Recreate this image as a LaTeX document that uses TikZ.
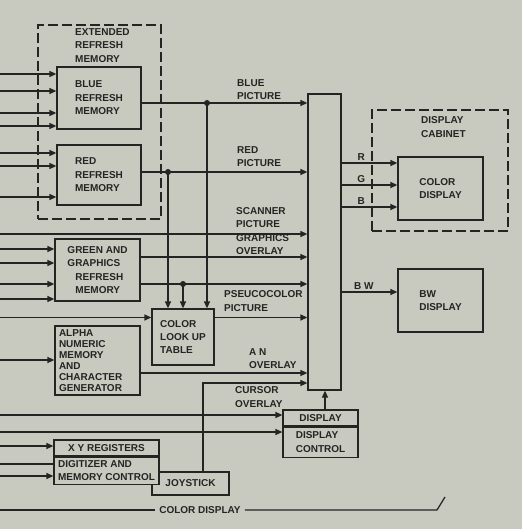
\documentclass[tikz,border=0pt]{standalone}
\usepackage{fontspec}
\setmainfont{Liberation Sans}
\usetikzlibrary{arrows.meta,positioning}
\definecolor{ScanPaper}{HTML}{C8CAC0}
\definecolor{ScanInk}{HTML}{242422}
\newcommand{\blockfont}{\fontsize{10}{13.4}\selectfont\bfseries}
\newcommand{\alphafont}{\fontsize{10}{11}\selectfont\bfseries}
\tikzset{
  wire/.style={line width=1.25pt,draw=ScanInk},
  feed/.style={wire,-{Triangle[length=7pt,width=6pt]}},
  unit/.style={draw=ScanInk,line width=1.25pt,fill=ScanPaper,inner sep=0pt,align=left,font=\blockfont},
  cabinet/.style={draw=ScanInk,line width=1.25pt,dash pattern=on 10pt off 4pt,inner sep=0pt},
  tag/.style={align=left,anchor=west,inner sep=0pt,font=\blockfont}
}

\begin{document}
\begin{tikzpicture}[x=1pt,y=-1pt,text=ScanInk]
  \useasboundingbox[fill=ScanPaper] (0,0) rectangle (522,529);

  % refresh memories
  \node[cabinet,minimum width=123pt,minimum height=194pt] (extMem) at (99.5,122) {};
  \node[tag] (extLbl) at (75,45.5) {EXTENDED\\REFRESH\\MEMORY};
  \node[unit,minimum width=84pt,minimum height=62pt] (blueMem) at (99,98) {BLUE\\REFRESH\\MEMORY};
  \node[unit,minimum width=84pt,minimum height=60pt] (redMem) at (99,175) {RED\\REFRESH\\MEMORY};
  \node[unit,minimum width=85pt,minimum height=62pt] (greenMem) at (97.5,270)
    {GREEN AND\\GRAPHICS\\\hspace*{8pt}REFRESH\\\hspace*{8pt}MEMORY};
  \node[unit,text width=77pt,inner xsep=4pt,minimum height=69pt,font=\alphafont] (alphaMem) at (97.5,360.5)
    {ALPHA\\NUMERIC\\MEMORY\\AND\\CHARACTER\\GENERATOR};
  \node[unit,minimum width=62pt,minimum height=56pt] (lut) at (183,337) {COLOR\\LOOK UP\\TABLE};
  \node[unit,minimum width=33pt,minimum height=296pt] (mux) at (324.5,242) {};

  % displays
  \node[cabinet,minimum width=136pt,minimum height=121pt] (dispCab) at (440,170.5) {};
  \node[tag] (cabLbl) at (421,127) {DISPLAY\\CABINET};
  \node[unit,minimum width=85pt,minimum height=63pt] (colorDisp) at (440.5,188.5) {COLOR\\DISPLAY};
  \node[unit,minimum width=85pt,minimum height=63pt] (bwDisp) at (440.5,300.5) {BW\\DISPLAY};

  % control
  \node[unit,minimum width=75pt,minimum height=16pt] (dispTop) at (320.5,418) {DISPLAY};
  \node[unit,minimum width=75pt,minimum height=30pt,below=0pt of dispTop] (dispCtl) {DISPLAY\\CONTROL};
  \node[unit,minimum width=77pt,minimum height=23pt] (joystick) at (190.5,483.5) {JOYSTICK};
  \node[unit,minimum width=105pt,minimum height=16pt] (xyReg) at (106.5,448) {X Y REGISTERS};
  \node[unit,minimum width=105pt,minimum height=27pt,below=0pt of xyReg] (digCtl) {DIGITIZER AND\\MEMORY CONTROL};

  % inputs from the left edge
  \foreach \y [count=\i] in {74,91,113,126} {
    \coordinate (blueIn\i) at (0,\y);
    \draw[feed] (blueIn\i) -- (blueIn\i -| blueMem.west);
  }
  \foreach \y [count=\i] in {153,166,197} {
    \coordinate (redIn\i) at (0,\y);
    \draw[feed] (redIn\i) -- (redIn\i -| redMem.west);
  }
  \foreach \y [count=\i] in {249,263,284,299} {
    \coordinate (greenIn\i) at (0,\y);
    \draw[feed] (greenIn\i) -- (greenIn\i -| greenMem.west);
  }
  \coordinate (scanIn) at (0,234);
  \coordinate (lutIn) at (0,317.5);
  \coordinate (alphaIn) at (0,360);
  \coordinate (dispIn1) at (0,415);
  \coordinate (dispIn2) at (0,432);
  \coordinate (xyIn1) at (0,446);
  \coordinate (xyIn2) at (0,464);
  \coordinate (xyIn3) at (0,476);

  % pictures into the mixer
  \coordinate (tapBlue) at (207,103);
  \coordinate (tapRed) at (168,172);
  \coordinate (tapGreen) at (183,284);
  \coordinate (gfxOut) at ([yshift=13pt]greenMem.east);
  \coordinate (anOut) at ([yshift=-12.5pt]alphaMem.east);
  \coordinate (cursorBend) at (203,383);
  \draw[feed] (blueMem.east |- tapBlue) -- (tapBlue -| mux.west);
  \draw[feed] (redMem.east |- tapRed) -- (tapRed -| mux.west);
  \draw[feed] (scanIn) -- (scanIn -| mux.west);
  \draw[feed] (gfxOut) -- (gfxOut -| mux.west);
  \draw[feed] (greenMem.east |- tapGreen) -- (tapGreen -| mux.west);
  \foreach \t in {tapRed,tapGreen,tapBlue}
    \draw[feed] (\t) -- (\t |- lut.north);
  \draw[feed] (lutIn) -- (lutIn -| lut.west);
  \draw[feed] (lut.east |- lutIn) -- (lutIn -| mux.west);
  \draw[feed] (alphaIn) -- (alphaIn -| alphaMem.west);
  \draw[feed] (anOut) -- (anOut -| mux.west);
  \draw[feed] (cursorBend |- joystick.north) -- (cursorBend) -- (cursorBend -| mux.west);

  % display control
  \draw[feed] (dispIn1) -- (dispIn1 -| dispTop.west);
  \draw[feed] (dispIn2) -- (dispIn2 -| dispCtl.west);
  \coordinate (dispUp) at ([xshift=4.5pt]dispTop.north);
  \draw[feed] (dispUp) -- (dispUp |- mux.south);
  \draw[feed] (xyIn1) -- (xyIn1 -| xyReg.west);
  \draw[wire] (xyIn2) -- (xyIn2 -| digCtl.west);
  \draw[feed] (xyIn3) -- (xyIn3 -| digCtl.west);

  % outputs
  \foreach \c/\dy in {R/25.5,G/3.5,B/-18.5} {
    \coordinate (rgb\c) at ([yshift=\dy pt]colorDisp.west);
    \draw[feed] (rgb\c -| mux.east) -- node[pos=0.35,above=2pt,inner sep=0pt,font=\blockfont] {\c} (rgb\c);
  }
  \coordinate (bwIn) at ([yshift=8.5pt]bwDisp.west);
  \draw[feed] (bwIn -| mux.east) -- node[pos=0.4,above=2pt,inner sep=0pt,font=\blockfont] {B W} (bwIn);

  % line labels
  \node[tag] (lblBlue) at (237,89.5) {BLUE\\PICTURE};
  \node[tag] (lblRed) at (237,156.5) {RED\\PICTURE};
  \node[tag] (lblScan) at (236,231) {SCANNER\\PICTURE\\GRAPHICS\\OVERLAY};
  \node[tag] (lblPseudo) at (224,301) {PSEUCOCOLOR\\PICTURE};
  \node[tag] (lblAn) at (249,358.5) {A N\\OVERLAY};
  \node[tag] (lblCursor) at (235,397) {CURSOR\\OVERLAY};

  % color display bus
  \node[inner sep=4pt,font=\blockfont] (cdLbl) at (200,510) {COLOR DISPLAY};
  \coordinate (cdStart) at (0,510);
  \coordinate (cdKnee) at (437,510);
  \coordinate (cdEnd) at (445,497);
  \draw[wire] (cdStart) -- (cdLbl.west);
  \draw[wire] (cdLbl.east) -- (cdKnee) -- (cdEnd);

  \foreach \t in {tapBlue,tapRed,tapGreen}
    \fill[ScanInk] (\t) circle (3pt);
\end{tikzpicture}
\end{document}
